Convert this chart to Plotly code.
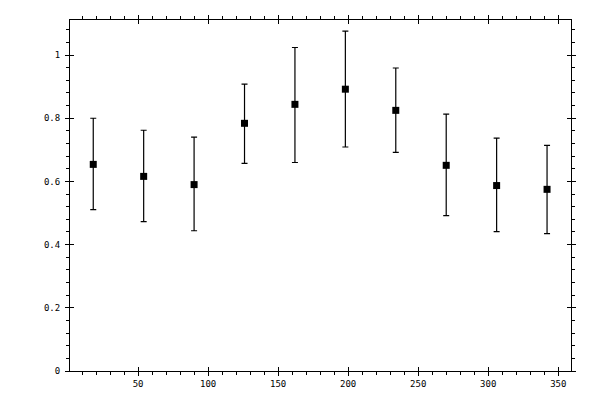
import plotly.graph_objects as go

# angle positions and measured values
angles = [18, 54, 90, 126, 162, 198, 234, 270, 306, 342]
values = [0.654, 0.616, 0.590, 0.784, 0.844, 0.892, 0.825, 0.651, 0.587, 0.575]
err_hi = [0.800, 0.762, 0.740, 0.908, 1.024, 1.076, 0.959, 0.813, 0.737, 0.714]
err_lo = [0.511, 0.473, 0.444, 0.657, 0.660, 0.709, 0.692, 0.492, 0.441, 0.435]

x_ticks = [50, 100, 150, 200, 250, 300, 350]
y_ticks = [0, 0.2, 0.4, 0.6, 0.8, 1]
y_labels = ["0", "0.2", "0.4", "0.6", "0.8", "1"]

plus = [h - v for h, v in zip(err_hi, values)]
minus = [v - l for v, l in zip(values, err_lo)]

fig = go.Figure()
fig.add_trace(go.Scatter(
    x=angles, y=values, mode="markers",
    marker=dict(symbol="square", size=7, color="black"),
    error_y=dict(type="data", symmetric=False, array=plus, arrayminus=minus,
                 color="black", thickness=1.2, width=3),
    showlegend=False,
))

xr = [1.4, 359.1]
yr = [0, 1.111]
font = dict(family="DejaVu Sans Mono", size=9, color="black")

# page body adds ~7px offset, so margins are shifted to compensate
fig.update_layout(
    width=600, height=400,
    paper_bgcolor="white", plot_bgcolor="white",
    margin=dict(l=62, r=37, t=12, b=37, autoexpand=False),
    font=font,
    xaxis=dict(range=xr, tickvals=x_ticks, showgrid=False, zeroline=False,
               showline=True, linecolor="black", linewidth=1, mirror="allticks",
               ticks="outside", ticklen=4, tickwidth=1, tickcolor="black",
               minor=dict(dtick=10, ticks="outside", ticklen=3, tickcolor="black", showgrid=False)),
    yaxis=dict(range=yr, tickvals=y_ticks, ticktext=y_labels, showgrid=False, zeroline=False,
               showline=True, linecolor="black", linewidth=1, mirror="allticks",
               ticks="outside", ticklen=4, tickwidth=1, tickcolor="black",
               ticklabelstandoff=3,
               minor=dict(dtick=0.04, ticks="outside", ticklen=3, tickcolor="black", showgrid=False)),
    # inner half of the major ticks
    xaxis2=dict(range=xr, tickvals=x_ticks, overlaying="x", showticklabels=False,
                showgrid=False, zeroline=False, mirror="allticks", showline=False,
                ticks="inside", ticklen=4, tickwidth=1, tickcolor="black"),
    yaxis2=dict(range=yr, tickvals=y_ticks, overlaying="y", showticklabels=False,
                showgrid=False, zeroline=False, mirror="allticks", showline=False,
                ticks="inside", ticklen=4, tickwidth=1, tickcolor="black"),
)
fig.add_trace(go.Scatter(x=[None], y=[None], xaxis="x2", yaxis="y2", showlegend=False))

fig.write_html("out.html")
